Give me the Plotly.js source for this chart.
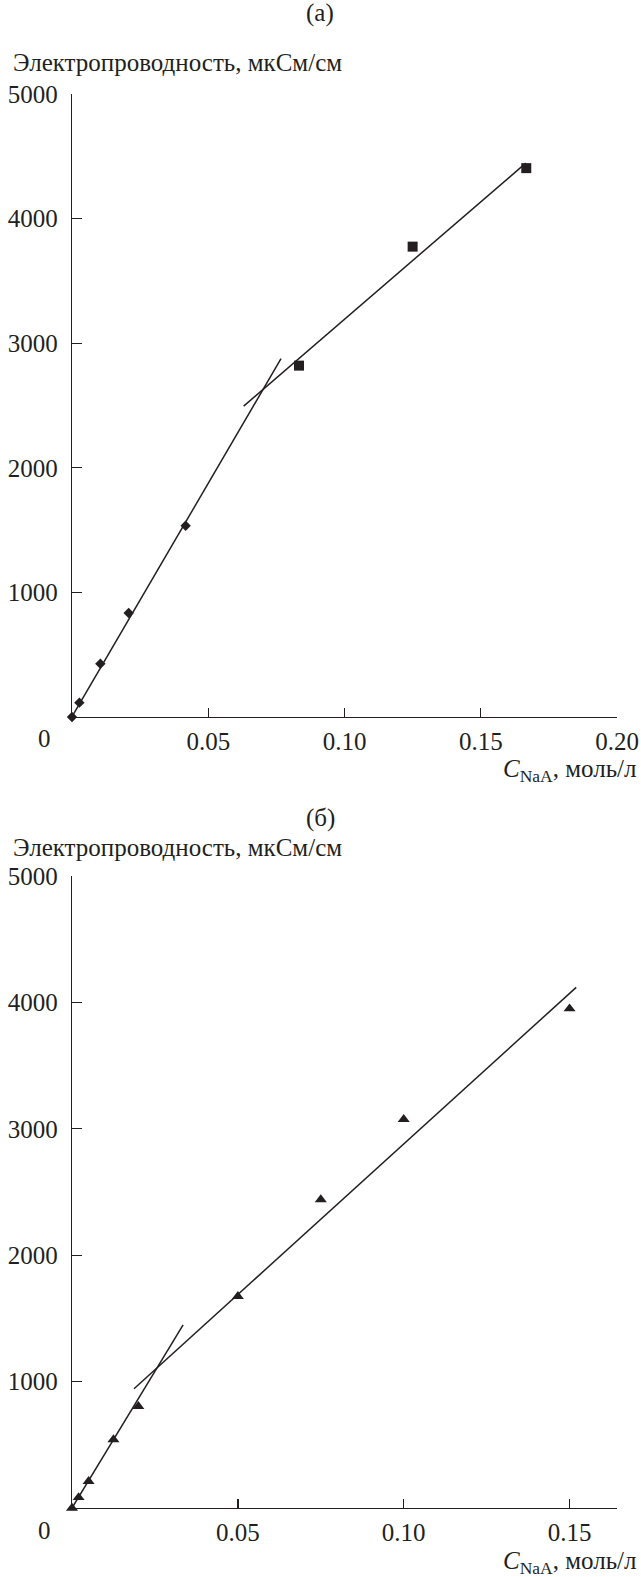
<!DOCTYPE html>
<html>
<head>
<meta charset="utf-8">
<script src="https://cdn.plot.ly/plotly-3.0.1.min.js"></script>
<style>html,body{margin:0;padding:0;background:#fff;}#chart{width:641px;height:1577px;}</style>
</head>
<body>
<div id="chart"></div>
<script>
// ---- Panel (а) data ----
const xA_dilute = [0, 0.0027, 0.0104, 0.0208, 0.0417];
const yA_dilute = [0, 115, 427, 835, 1535];
const xA_conc = [0.0833, 0.125, 0.1667];
const yA_conc = [2820, 3775, 4405];
const xA_fit1 = [0.0006, 0.0767];
const yA_fit1 = [25, 2876];
const xA_fit2 = [0.063, 0.1665];
const yA_fit2 = [2495, 4445];

// ---- Panel (б) data ----
const xB = [0, 0.002, 0.005, 0.0125, 0.02, 0.05, 0.075, 0.10, 0.15];
const yB = [0, 84, 211, 541, 805, 1675, 2440, 3075, 3950];
const xB_fit1 = [0, 0.0335];
const yB_fit1 = [0, 1449];
const xB_fit2 = [0.0187, 0.152];
const yB_fit2 = [943, 4119];

// ---- Tick labels ----
const xTicksA = [0.05, 0.10, 0.15, 0.20];
const xTickTextA = ['0.05', '0.10', '0.15', '0.20'];
const xTicksB = [0.05, 0.10, 0.15];
const xTickTextB = ['0.05', '0.10', '0.15'];
const yTicks = [1000, 2000, 3000, 4000, 5000];
const yTickText = ['1000', '2000', '3000', '4000', '5000'];

const INK = '#231f20';
const FONT = '"Liberation Serif", "Times New Roman", Times, serif';
const W = 641, H = 1577;
const px = v => v / W;
const py = v => 1 - v / H;

const lineStyle = {color: INK, width: 1.5};
const traces = [
  {x: xA_fit1, y: yA_fit1, mode: 'lines', line: lineStyle, xaxis: 'x', yaxis: 'y', hoverinfo: 'skip'},
  {x: xA_fit2, y: yA_fit2, mode: 'lines', line: lineStyle, xaxis: 'x', yaxis: 'y', hoverinfo: 'skip'},
  {x: xA_dilute, y: yA_dilute, mode: 'markers', marker: {symbol: 'diamond', size: 8, color: INK}, cliponaxis: false, xaxis: 'x', yaxis: 'y'},
  {x: xA_conc, y: yA_conc, mode: 'markers', marker: {symbol: 'square', size: 10, color: INK}, cliponaxis: false, xaxis: 'x', yaxis: 'y'},
  {x: xB_fit1, y: yB_fit1, mode: 'lines', line: lineStyle, xaxis: 'x2', yaxis: 'y2', hoverinfo: 'skip'},
  {x: xB_fit2, y: yB_fit2, mode: 'lines', line: lineStyle, xaxis: 'x2', yaxis: 'y2', hoverinfo: 'skip'},
  {x: xB, y: yB, mode: 'markers', marker: {symbol: 'triangle-up', size: 10.5, color: INK}, cliponaxis: false, xaxis: 'x2', yaxis: 'y2'}
];

const tickFont = {family: FONT, size: 25, color: INK};
function xAxis(range, vals, text, anchor) {
  return {
    domain: [px(72), px(617)], range: range, anchor: anchor,
    showline: true, linecolor: INK, linewidth: 1.3, mirror: false,
    showgrid: false, zeroline: false,
    ticks: 'inside', ticklen: 9, tickwidth: 1.3, tickcolor: INK,
    tickmode: 'array', tickvals: vals, ticktext: text,
    tickfont: tickFont, ticklabelstandoff: 2, fixedrange: true
  };
}
function yAxis(domain, anchor) {
  return {
    domain: domain, range: [0, 5000], anchor: anchor,
    showline: true, linecolor: INK, linewidth: 1.3, mirror: false,
    showgrid: false, zeroline: false,
    ticks: 'inside', ticklen: 10, tickwidth: 1.3, tickcolor: INK,
    tickmode: 'array', tickvals: yTicks, ticktext: yTickText,
    tickfont: tickFont, ticklabelstandoff: 8, fixedrange: true
  };
}

const txt = (text, x, y, xanchor) => ({
  text: text, xref: 'paper', yref: 'paper', x: px(x), y: py(y),
  xanchor: xanchor, yanchor: 'middle', showarrow: false,
  font: {family: FONT, size: 25, color: INK}
});

const layout = {
  width: W, height: H,
  margin: {l: 0, r: 0, t: 0, b: 0, pad: 0},
  paper_bgcolor: '#fff', plot_bgcolor: '#fff',
  showlegend: false,
  font: {family: FONT, size: 25, color: INK},
  xaxis: xAxis([0, 0.20], xTicksA, xTickTextA, 'y'),
  yaxis: yAxis([py(717), py(94)], 'x'),
  xaxis2: xAxis([0, 0.1643], xTicksB, xTickTextB, 'y2'),
  yaxis2: yAxis([py(1508), py(876)], 'x2'),
  annotations: [
    txt('(а)', 320, 13, 'center'),
    txt('Электропроводность, мкСм/см', 11, 63, 'left'),
    txt('0', 44, 738, 'center'),
    txt('<i>C</i><sub>NaA</sub>, моль/л', 639, 770, 'right'),
    txt('(б)', 320, 818, 'center'),
    txt('Электропроводность, мкСм/см', 11, 848, 'left'),
    txt('0', 44, 1530, 'center'),
    txt('<i>C</i><sub>NaA</sub>, моль/л', 639, 1562, 'right')
  ]
};

Plotly.newPlot('chart', traces, layout, {staticPlot: true, displayModeBar: false});
</script>
</body>
</html>
